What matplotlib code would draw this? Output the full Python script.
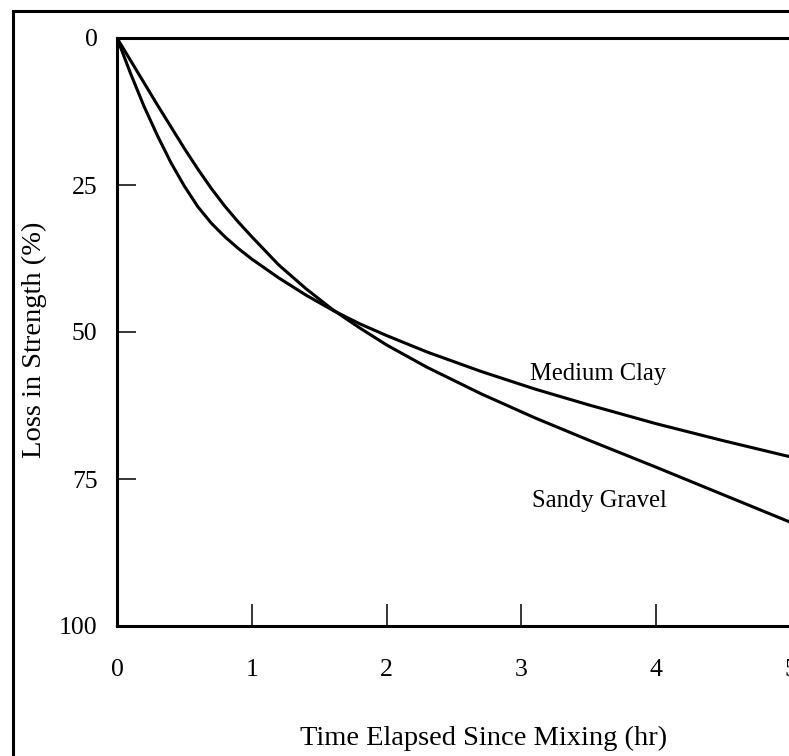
import matplotlib
matplotlib.use('Agg')
import matplotlib.pyplot as plt
from matplotlib.patches import Rectangle

# loss in strength (%) against time since mixing (hr)
clay_t = [0, 0.1, 0.2, 0.3, 0.4, 0.5, 0.6, 0.7, 0.8, 0.9, 1.0, 1.2, 1.4, 1.6,
          1.8, 2.0, 2.3, 2.7, 3.1, 3.5, 4.0, 4.5, 4.99]
clay_loss = [0, 6.0, 11.6, 16.6, 21.2, 25.2, 28.7, 31.5, 33.8, 35.8, 37.6, 40.8,
             43.7, 46.3, 48.6, 50.6, 53.4, 56.7, 59.7, 62.4, 65.6, 68.5, 71.2]

gravel_t = [0, 0.1, 0.2, 0.3, 0.4, 0.5, 0.6, 0.7, 0.8, 0.9, 1.0, 1.2, 1.4, 1.6,
            1.8, 2.0, 2.3, 2.7, 3.1, 3.5, 4.0, 4.5, 4.99]
gravel_loss = [0, 3.8, 7.6, 11.4, 15.1, 18.8, 22.3, 25.6, 28.6, 31.3, 33.8, 38.6,
               42.6, 46.2, 49.3, 52.2, 56.0, 60.5, 64.6, 68.4, 73.0, 77.7, 82.3]

x_ticks = [0, 1, 2, 3, 4, 5]
y_ticks = [0, 25, 50, 75, 100]

plt.rcParams['font.family'] = 'Liberation Serif'
plt.rcParams['font.size'] = 18.5

W, H = 789, 756
fig = plt.figure(figsize=(W / 100, H / 100), dpi=100)
ax = fig.add_axes([117 / W, (H - 626) / H, 674 / W, 588 / H])

ax.plot(clay_t, clay_loss, color='black', lw=2.2, solid_joinstyle='round')
ax.plot(gravel_t, gravel_loss, color='black', lw=2.2, solid_joinstyle='round')

ax.set_xlim(0, 5)
ax.set_ylim(100, 0)
ax.set_xticks(x_ticks)
ax.set_yticks(y_ticks)
ax.tick_params(axis='both', direction='in', width=1.1, colors='black')
ax.tick_params(axis='x', length=16, pad=24)
ax.tick_params(axis='y', length=14, pad=14)
for t in ax.yaxis.get_major_ticks()[:1] + ax.xaxis.get_major_ticks()[:1]:
    t.tick1line.set_visible(False)
ax.yaxis.get_major_ticks()[-1].tick1line.set_visible(False)

for side in ['left', 'bottom', 'top']:
    ax.spines[side].set_linewidth(2.2)
ax.spines['right'].set_visible(False)

ax.text(3.064, 57.1, 'Medium Clay', va='center', ha='left', fontsize=17.7)
ax.text(3.079, 78.7, 'Sandy Gravel', va='center', ha='left', fontsize=17.7)

ax.set_xlabel('Time Elapsed Since Mixing (hr)', fontsize=20.5)
ax.xaxis.set_label_coords(0.5445, -0.170)
ax.set_ylabel('Loss in Strength (%)', fontsize=20.5)
ax.yaxis.set_label_coords(-0.1035, 0.486)

# page frame
fig.patches.append(Rectangle((13 / W, -0.1), 1.2, (H - 11) / H + 0.1,
                             transform=fig.transFigure, fill=False,
                             edgecolor='black', lw=2.2))

fig.savefig('out.png', dpi=100)
